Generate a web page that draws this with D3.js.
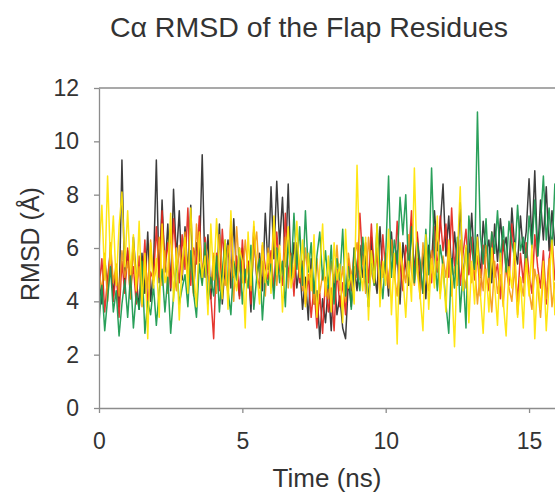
<!DOCTYPE html>
<html><head><meta charset="utf-8">
<script src="https://cdn.jsdelivr.net/npm/d3@7"></script>
<style>body{margin:0;background:#fff}svg{display:block}text{font-family:"Liberation Sans",Arial,sans-serif;fill:#333}</style>
</head><body>
<script>
const timeStep = 0.1; // ns between samples
const xTicks = [0, 5, 10, 15];
const yTicks = [0, 2, 4, 6, 8, 10, 12];
const seriesNames = ["black", "red", "orange", "green", "yellow"];
const seriesColors = ["#2b2b2b", "#e3261d", "#f39a14", "#17984c", "#ffe400"];

const black = [
4.8,3.9,5.6,4.4,6.1,4.2,5.3,3.8,9.3,4.6,
5.9,4.1,6.4,4.9,3.7,5.8,4.3,6.6,4.0,5.2,
9.3,4.7,7.8,5.1,6.9,4.4,8.2,5.6,7.4,4.8,
6.8,5.0,7.6,4.3,6.2,5.5,9.5,4.9,6.5,4.1,
5.7,4.6,6.9,3.9,5.4,6.3,4.5,7.1,5.0,4.2,
6.0,4.8,5.5,3.6,6.7,4.9,5.8,4.4,7.3,5.2,
8.3,5.6,8.5,6.1,7.9,5.3,8.4,4.8,6.2,4.5,
5.4,3.7,4.9,3.3,5.6,3.9,4.4,2.6,4.1,3.2,
4.6,2.9,5.0,3.5,4.2,3.0,2.6,4.8,3.8,5.3,
4.4,6.1,4.9,5.7,3.8,6.4,5.1,4.3,6.8,5.0,
5.5,4.2,6.6,4.9,5.9,3.9,6.2,5.3,4.6,6.9,
5.1,6.4,4.5,5.8,4.1,6.1,5.4,7.4,5.9,6.8,
8.4,5.7,7.2,5.0,6.6,5.4,7.7,4.8,6.0,5.6,
7.3,5.2,6.5,4.9,7.0,5.8,6.3,4.7,6.9,5.5,
7.1,5.9,6.4,5.1,7.5,6.0,5.4,7.2,5.8,6.6,
8.6,6.2,8.9,5.7,7.8,6.3,8.3,5.9,7.4,6.1,
7.0,5.8,8.0,6.4,7.2];

const red = [
4.5,5.6,3.6,4.9,5.8,4.0,5.2,3.4,5.5,4.3,
6.0,4.6,5.3,3.9,5.7,4.4,6.3,3.8,5.1,4.8,
6.8,4.9,7.4,5.3,6.2,4.5,7.1,5.6,4.7,6.5,
5.2,7.5,4.6,6.0,5.4,7.2,4.8,6.4,5.0,4.2,
2.6,5.8,4.4,6.7,5.1,4.3,7.0,4.9,5.7,4.1,
6.3,4.7,5.5,3.9,6.8,5.0,4.5,6.1,5.3,4.8,
5.9,4.4,6.6,5.2,4.6,7.3,4.9,5.8,4.2,6.1,
4.7,5.5,3.9,5.0,3.4,4.6,3.0,4.3,2.8,4.9,
3.6,4.5,2.9,5.2,3.8,4.7,3.5,5.6,4.4,6.0,
4.9,7.3,5.4,6.2,4.7,6.9,5.0,5.8,4.3,6.5,
5.1,4.6,6.3,4.9,7.0,5.4,4.4,6.1,5.6,7.4,
4.8,6.6,5.2,4.3,6.0,5.5,4.7,6.8,5.1,7.2,
5.9,6.9,4.9,7.5,5.3,6.2,4.6,5.8,6.7,5.0,
6.4,4.8,5.7,4.2,6.1,5.0,4.4,6.6,4.9,5.4,
4.1,6.3,5.2,4.6,6.9,5.5,4.0,5.8,4.7,6.2,
5.0,4.3,6.5,5.3,4.5,5.9,3.9,5.6,6.4,4.8,
5.5,4.2,6.0,5.1,4.6];

const orange = [
5.1,4.4,5.8,4.0,6.2,4.7,5.4,4.2,5.9,4.9,
5.5,4.1,6.0,4.6,5.3,3.8,5.7,4.5,6.3,4.8,
5.2,6.4,4.6,5.9,4.3,6.7,5.1,4.4,6.1,5.0,
6.6,4.9,5.6,4.2,6.9,5.3,4.7,6.2,5.5,4.5,
5.8,4.3,6.5,5.0,4.6,6.1,5.4,4.0,6.8,5.2,
4.7,6.3,5.1,4.4,5.9,6.6,4.8,5.5,4.2,6.0,
5.3,6.9,4.6,5.8,5.0,6.4,4.5,5.7,4.9,6.2,
5.4,4.4,6.0,4.8,5.2,3.9,5.6,4.3,5.0,4.6,
4.1,5.5,4.7,6.1,4.4,5.3,4.0,5.8,4.9,5.6,
6.2,4.8,5.7,4.3,6.4,5.1,4.6,6.0,5.4,4.9,
5.8,4.5,6.3,5.0,4.2,5.9,5.3,4.7,6.5,5.1,
4.6,5.6,4.1,6.2,5.0,4.4,5.9,4.8,5.5,4.3,
5.7,4.9,6.0,4.2,5.3,4.6,6.3,5.1,4.5,5.8,
4.7,5.4,3.9,5.2,4.4,6.1,4.8,3.6,5.5,4.3,
5.0,3.8,5.6,4.5,4.0,5.3,3.5,4.9,4.2,5.7,
4.4,3.7,5.2,4.6,3.4,5.0,4.1,5.6,3.8,4.7,
4.5,3.9,5.1,4.3,4.8];

const green = [
3.2,4.6,2.9,4.1,5.3,3.6,4.4,2.7,3.9,4.8,
3.4,5.0,3.0,4.3,3.7,5.5,2.8,4.0,3.5,4.6,
3.1,4.4,5.2,3.6,4.9,2.8,4.2,5.6,3.9,4.5,
5.0,3.8,5.9,4.3,3.4,5.4,4.6,6.2,3.9,4.9,
4.2,5.7,3.6,5.1,6.3,4.4,3.5,5.5,4.8,6.0,
3.9,5.2,4.5,6.1,3.7,4.9,5.6,3.3,5.0,4.6,
5.4,4.1,6.0,4.7,5.5,3.8,6.3,4.9,7.3,5.2,
6.8,4.6,7.4,5.1,6.2,4.3,5.7,6.6,4.8,5.9,
4.5,6.1,3.9,5.6,4.8,6.7,4.2,5.3,3.7,6.0,
5.1,4.4,6.4,5.0,3.8,5.8,4.6,6.9,5.2,4.1,
5.7,8.7,4.9,6.3,5.4,7.9,6.5,8.0,5.0,6.8,
4.7,6.2,5.5,4.3,6.7,5.0,9.0,5.8,4.4,6.1,
5.3,3.9,2.8,5.6,4.5,6.4,3.6,5.1,3.0,7.2,
6.0,5.2,11.1,6.5,5.4,7.1,4.9,6.6,5.8,7.4,
5.5,6.8,5.1,7.0,6.2,5.6,7.6,5.9,6.4,5.3,
7.2,6.0,7.8,5.7,6.9,8.7,6.3,7.5,5.8,8.4,
6.6,7.3,5.9,7.0,6.2];

const yellow = [
5.9,7.6,4.8,8.7,5.4,7.2,4.6,6.8,8.1,5.3,
7.4,5.0,6.5,4.4,7.0,3.9,5.8,2.6,6.2,4.5,
5.6,3.4,6.9,4.7,5.2,7.3,4.0,6.0,3.3,5.5,
6.4,4.3,7.5,5.1,3.8,6.6,4.9,5.7,3.5,6.9,
4.8,7.1,5.3,4.1,6.3,3.7,7.4,5.0,4.4,6.0,
5.5,3.0,6.6,4.6,7.0,5.2,3.9,6.2,4.7,5.8,
4.3,7.2,5.0,6.1,3.6,5.6,6.8,4.5,5.3,7.0,
4.9,6.3,3.8,5.8,4.4,6.5,3.4,5.2,6.9,4.2,
5.7,3.6,6.2,4.8,5.4,3.2,6.7,4.5,5.0,3.9,
9.1,5.3,4.4,6.4,3.3,5.9,4.7,6.9,3.8,5.5,
4.6,6.7,3.5,5.8,2.4,6.2,4.9,3.4,5.5,4.0,
9.0,5.1,4.2,2.9,6.5,3.7,5.6,4.5,7.2,4.1,
5.4,3.6,6.3,4.8,2.3,5.7,8.3,4.4,6.1,3.2,
5.5,3.9,6.4,4.3,2.8,5.2,3.6,6.0,4.6,3.1,
5.8,4.0,2.7,5.3,4.5,6.2,3.4,4.9,3.0,5.6,
4.2,6.1,2.6,5.0,3.7,5.5,2.9,4.7,6.3,3.5,
5.2,3.8,4.6,2.8,5.0];

const seriesValues = [black, red, orange, green, yellow];

const W = 555, H = 496;
const plotLeft = 99, plotTop = 88, plotBottom = 408;
const x = d3.scaleLinear().domain([0, 16]).range([plotLeft, plotLeft + 16 * 28.67]);
const y = d3.scaleLinear().domain([0, 12]).range([plotBottom, plotTop]);

const svg = d3.select("body").append("svg").attr("width", W).attr("height", H);

svg.append("defs").append("clipPath").attr("id", "plot")
  .append("rect").attr("x", plotLeft).attr("y", plotTop).attr("width", W - plotLeft).attr("height", plotBottom - plotTop);

const line = d3.line().x((d, i) => x(i * timeStep)).y(d => y(d));
const g = svg.append("g").attr("clip-path", "url(#plot)");
seriesValues.forEach((vals, k) => {
  g.append("path").datum(vals).attr("d", line)
    .attr("fill", "none").attr("stroke", seriesColors[k])
    .attr("stroke-width", 1.5).attr("stroke-opacity", 0.92)
    .attr("stroke-linejoin", "round");
});

const axisColor = "#8c8c8c";
svg.append("line").attr("x1", plotLeft).attr("x2", W).attr("y1", plotTop).attr("y2", plotTop)
  .attr("stroke", axisColor).attr("stroke-width", 1.3);

const yAxis = svg.append("g").attr("transform", `translate(${plotLeft},0)`)
  .call(d3.axisLeft(y).tickValues(yTicks).tickSize(5).tickPadding(15).tickSizeOuter(0));
const xAxis = svg.append("g").attr("transform", `translate(0,${plotBottom})`)
  .call(d3.axisBottom(x).tickValues(xTicks).tickSize(5).tickPadding(20).tickSizeOuter(0));
[xAxis, yAxis].forEach(a => {
  a.select(".domain").attr("stroke", axisColor).attr("stroke-width", 1.3);
  a.selectAll(".tick line").attr("stroke", axisColor).attr("stroke-width", 1.3);
  a.selectAll(".tick text").attr("font-size", 23).attr("fill", "#333")
    .attr("font-family", '"Liberation Sans", Arial, sans-serif');
});
xAxis.selectAll(".tick text").attr("dy", "0.71em");

svg.append("text").attr("x", 309).attr("y", 37).attr("text-anchor", "middle")
  .attr("font-size", 28.5).text("C\u03B1 RMSD of the Flap Residues");
svg.append("text").attr("x", 327).attr("y", 487).attr("text-anchor", "middle")
  .attr("font-size", 26).text("Time (ns)");
svg.append("text").attr("transform", "translate(39,244) rotate(-90)").attr("text-anchor", "middle")
  .attr("font-size", 25).text("RMSD (\u00C5)");
</script>
</body></html>
